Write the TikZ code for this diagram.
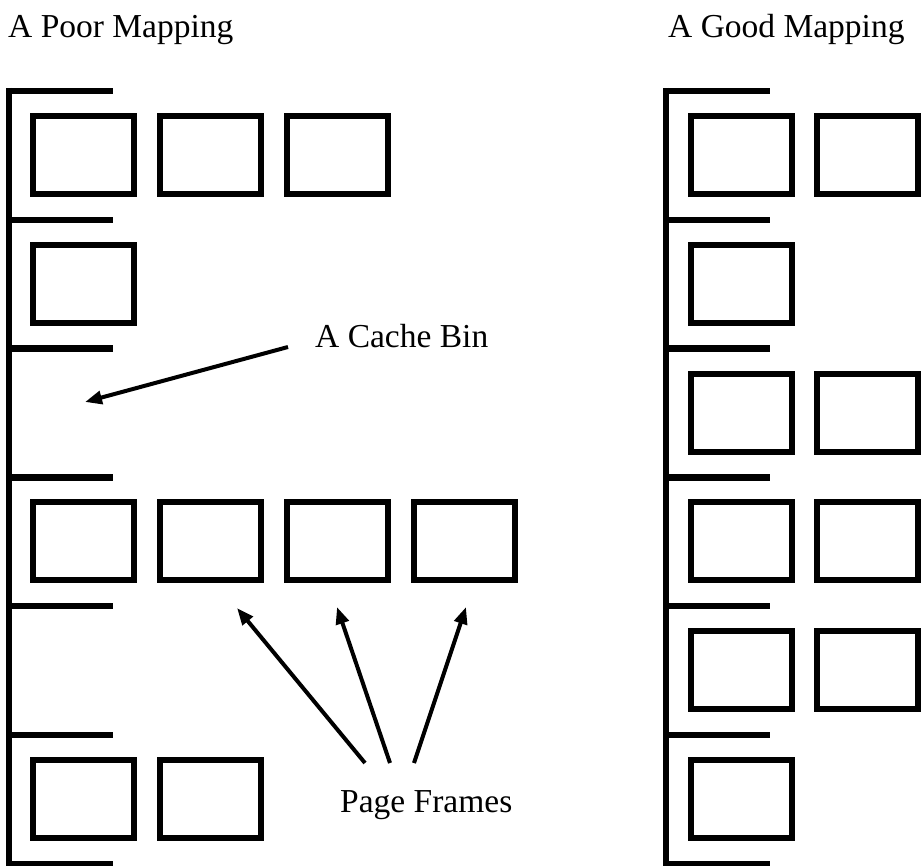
\documentclass[tikz,border=0pt]{standalone}
\usepackage{fontspec}
\setmainfont{Liberation Serif}
\usetikzlibrary{arrows.meta}

\begin{document}
\begin{tikzpicture}[x=1pt,y=-1pt,
  frame/.style={draw, line width=6pt, minimum width=101pt, minimum height=78pt,
                inner sep=0pt, outer sep=0pt},
  binbar/.style={line width=6.5pt},
  spine/.style={line width=6pt},
  lbl/.style={inner sep=0pt, font=\fontsize{33.5}{40}\selectfont},
  pointer/.style={line width=4pt, -{Triangle[length=17pt,width=13pt]}},
]
\useasboundingbox (0,0) rectangle (924,866);

% titles
\node[lbl, anchor=base west] (poor) at (8,38) {A Poor Mapping};
\node[lbl, anchor=base west] (good) at (668,38) {A Good Mapping};

% bin separators and spines (7 separators, 128.8 apart)
\foreach \ox in {9,666} {
  \draw[spine] (\ox,88) -- (\ox,866);
  \foreach \k in {0,...,6}
    \draw[binbar] (\ox-3,91+128.8*\k) -- (\ox+104,91+128.8*\k);
}

% left column: frames per bin  3,1,0,4,0,2
\foreach \r/\n in {0/3,1/1,3/4,5/2}
  \foreach \c in {1,...,\n}
    \node[frame] (L\r-\c) at (83.5+127*\c-127, 155+128.8*\r) {};

% right column: frames per bin  2,1,2,2,2,1
\foreach \r/\n in {0/2,1/1,2/2,3/2,4/2,5/1}
  \foreach \c in {1,...,\n}
    \node[frame] (R\r-\c) at (741.5+126*\c-126, 155+128.8*\r) {};

% labels and pointers
\node[lbl, anchor=base west] (cache) at (315,348) {A Cache Bin};
\coordinate (binpt) at (85,402);
\draw[pointer] (288,347) -- (binpt);

\node[lbl, anchor=base west] (pages) at (340,812) {Page Frames};
\coordinate (pf1) at (237,608);
\coordinate (pf2) at (337,607);
\coordinate (pf3) at (466,607);
\coordinate (t1) at (365,763);
\coordinate (t2) at (390,763);
\coordinate (t3) at (414,763);
\draw[pointer] (t1) -- (pf1);
\draw[pointer] (t2) -- (pf2);
\draw[pointer] (t3) -- (pf3);
\end{tikzpicture}
\end{document}
